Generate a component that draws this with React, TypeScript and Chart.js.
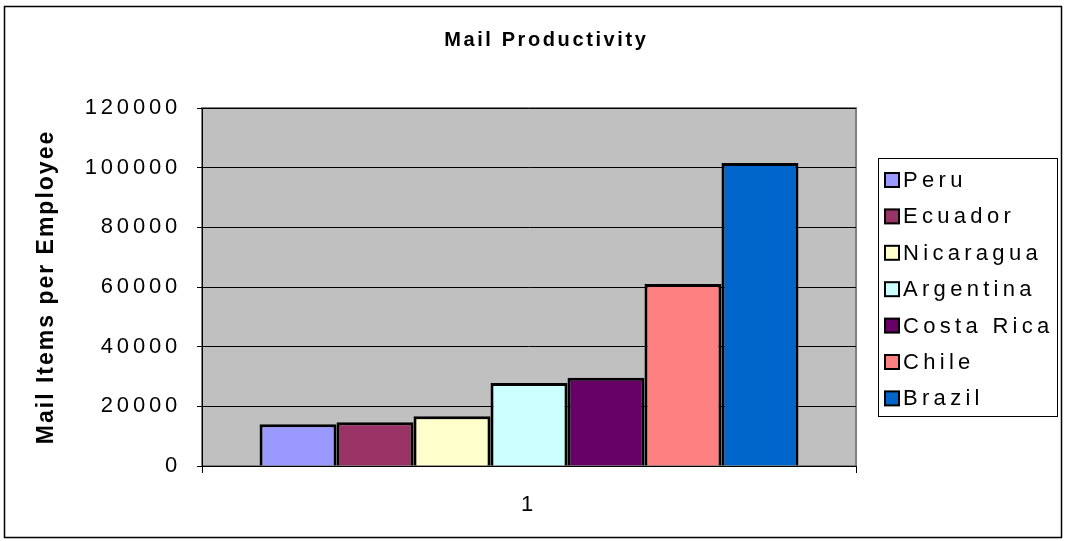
import React, { useEffect, useRef } from "react";
import { Chart, registerables } from "chart.js";

Chart.register(...registerables);

const categories = ["1"];
const countries = ["Peru", "Ecuador", "Nicaragua", "Argentina", "Costa Rica", "Chile", "Brazil"];
const values = [14000, 14700, 16700, 27800, 29600, 61000, 101600];
const colors = ["#9999FF", "#993366", "#FFFFCC", "#CCFFFF", "#660066", "#FF8080", "#0066CC"];
const yTicks = [0, 20000, 40000, 60000, 80000, 100000, 120000];

const chartTitle = "Mail Productivity";
const yTitle = "Mail Items per Employee";
const FONT = "'Liberation Sans', Arial, sans-serif";

function drawSpaced(ctx: CanvasRenderingContext2D, text: string, x: number, y: number, ls: number, align: "left" | "center") {
  ctx.save();
  (ctx as any).letterSpacing = ls + "px";
  ctx.textAlign = "left";
  const w = ctx.measureText(text).width - ls;
  const sx = align === "center" ? x - w / 2 : x;
  ctx.fillText(text, sx, y);
  ctx.restore();
}

const decor = {
  id: "decor",
  beforeDraw(chart: any) {
    const ctx = chart.ctx as CanvasRenderingContext2D;
    const a = chart.chartArea;
    ctx.save();
    ctx.fillStyle = "#ffffff";
    ctx.fillRect(0, 0, chart.width, chart.height);
    ctx.strokeStyle = "#000";
    ctx.lineWidth = 1.5;
    ctx.strokeRect(4.5, 6.5, 1057, 531);
    ctx.fillStyle = "#C0C0C0";
    ctx.fillRect(a.left, a.top, a.right - a.left, a.bottom - a.top);
    ctx.strokeStyle = "#808080";
    ctx.lineWidth = 2;
    ctx.strokeRect(a.left, a.top, a.right - a.left, a.bottom - a.top);
    ctx.restore();
    (ctx as any).letterSpacing = "3.8px";
  },
  afterDraw(chart: any) {
    const ctx = chart.ctx as CanvasRenderingContext2D;
    (ctx as any).letterSpacing = "0px";
    ctx.save();
    ctx.fillStyle = "#000";
    ctx.textBaseline = "middle";
    ctx.font = `bold 20px ${FONT}`;
    drawSpaced(ctx, chartTitle, 545, 40, 2.6, "center");

    ctx.save();
    ctx.translate(47, 288);
    ctx.rotate(-Math.PI / 2);
    ctx.font = `bold 23px ${FONT}`;
    drawSpaced(ctx, yTitle, 0, 0, 2, "center");
    ctx.restore();

    // legend
    ctx.strokeStyle = "#000";
    ctx.lineWidth = 1;
    ctx.strokeRect(878.5, 158.5, 179, 258);
    ctx.font = `22px ${FONT}`;
    chart.data.datasets.forEach((ds: any, i: number) => {
      const cy = 180 + i * 36.4;
      ctx.fillStyle = ds.backgroundColor;
      ctx.fillRect(885, cy - 7, 14, 14);
      ctx.lineWidth = 2;
      ctx.strokeRect(885, cy - 7, 14, 14);
      ctx.fillStyle = "#000";
      drawSpaced(ctx, ds.label, 903, cy + 1, 4.3, "left");
    });
    ctx.restore();
  },
};

export default function App() {
  const ref = useRef<HTMLCanvasElement>(null);
  useEffect(() => {
    document.body.style.margin = "0";
    const chart = new Chart(ref.current!, {
      type: "bar",
      data: {
        labels: categories,
        datasets: countries.map((c, i) => ({
          label: c,
          data: [values[i]],
          backgroundColor: colors[i],
          borderColor: "#000",
          borderWidth: 3,
          categoryPercentage: 0.824,
          barPercentage: 1,
        })),
      },
      options: {
        responsive: false,
        animation: false,
        layout: { padding: { left: 0, top: 108, right: 210, bottom: 0 } },
        plugins: { legend: { display: false }, title: { display: false }, tooltip: { enabled: false } },
        scales: {
          x: {
            afterFit: (s: any) => { s.height = 75; },
            grid: { drawOnChartArea: false, color: "#000", tickLength: 7, offset: true },
            border: { color: "#000", width: 1 },
            ticks: { color: "#000", font: { family: FONT, size: 22 }, padding: 19 },
          },
          y: {
            min: 0,
            max: 120000,
            afterFit: (s: any) => { s.width = 202; },
            afterBuildTicks: (s: any) => { s.ticks = yTicks.map((v) => ({ value: v })); },
            grid: { color: "#000", tickLength: 5 },
            border: { color: "#000", width: 1 },
            ticks: {
              color: "#000",
              font: { family: FONT, size: 22 },
              padding: 16,
              callback: (v: any) => String(v),
            },
          },
        },
      },
      plugins: [decor],
    });
    return () => chart.destroy();
  }, []);
  return <canvas ref={ref} width={1066} height={541} style={{ display: "block" }} />;
}
